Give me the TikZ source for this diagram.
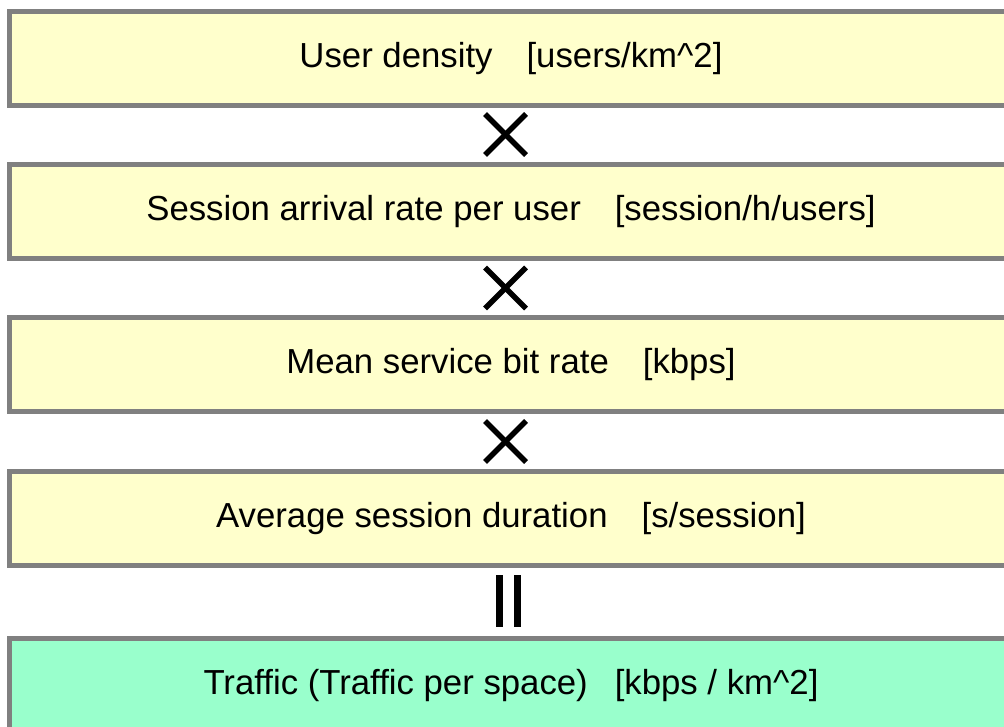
\documentclass[tikz,border=0pt]{standalone}
\usepackage{fontspec}
\setmainfont{Liberation Sans}
\definecolor{boxyellow}{HTML}{FFFFCC}
\definecolor{boxgreen}{HTML}{99FFCC}
\definecolor{boxgray}{HTML}{808080}
\begin{document}
\begin{tikzpicture}[x=1pt,y=-1pt,
  box/.style={draw=boxgray, line width=5pt, minimum width=1003pt, minimum height=94pt,
    inner sep=0pt, font=\fontsize{34.75}{42}\selectfont, text=black},
  ybox/.style={box, fill=boxyellow},
  gbox/.style={box, fill=boxgreen},
  timesline/.style={line width=5.5pt, black},
  eqbar/.style={fill=black}]
\useasboundingbox (0,0) rectangle (1004,727);
\node[ybox] (b1) at (511,58.5) {User density\hspace{34pt}[users/km\textasciicircum 2]};
\node[ybox] (b2) at (511,211.5) {Session arrival rate per user\hspace{34pt}[session/h/users]};
\node[ybox] (b3) at (511,364.5) {Mean service bit rate\hspace{34pt}[kbps]};
\node[ybox] (b4) at (511,518.5) {Average session duration\hspace{34pt}[s/session]};
\node[gbox] (b5) at (511,685.5) {Traffic (Traffic per space)\hspace{27pt}[kbps / km\textasciicircum 2]};
\coordinate (m1) at (505.5,134.5);
\coordinate (m2) at (505.5,288);
\coordinate (m3) at (505.5,441.5);
\coordinate (eq) at (508.5,601);
\foreach \m in {m1,m2,m3}{
  \draw[timesline] ([shift={(-20.5,-20.5)}]\m) -- ([shift={(20.5,20.5)}]\m);
  \draw[timesline] ([shift={(-20.5,20.5)}]\m) -- ([shift={(20.5,-20.5)}]\m);
}
\fill[eqbar] ([shift={(-12.5,-26)}]eq) rectangle ([shift={(-5.5,26)}]eq);
\fill[eqbar] ([shift={(5.5,-26)}]eq) rectangle ([shift={(12.5,26)}]eq);
\end{tikzpicture}
\end{document}
